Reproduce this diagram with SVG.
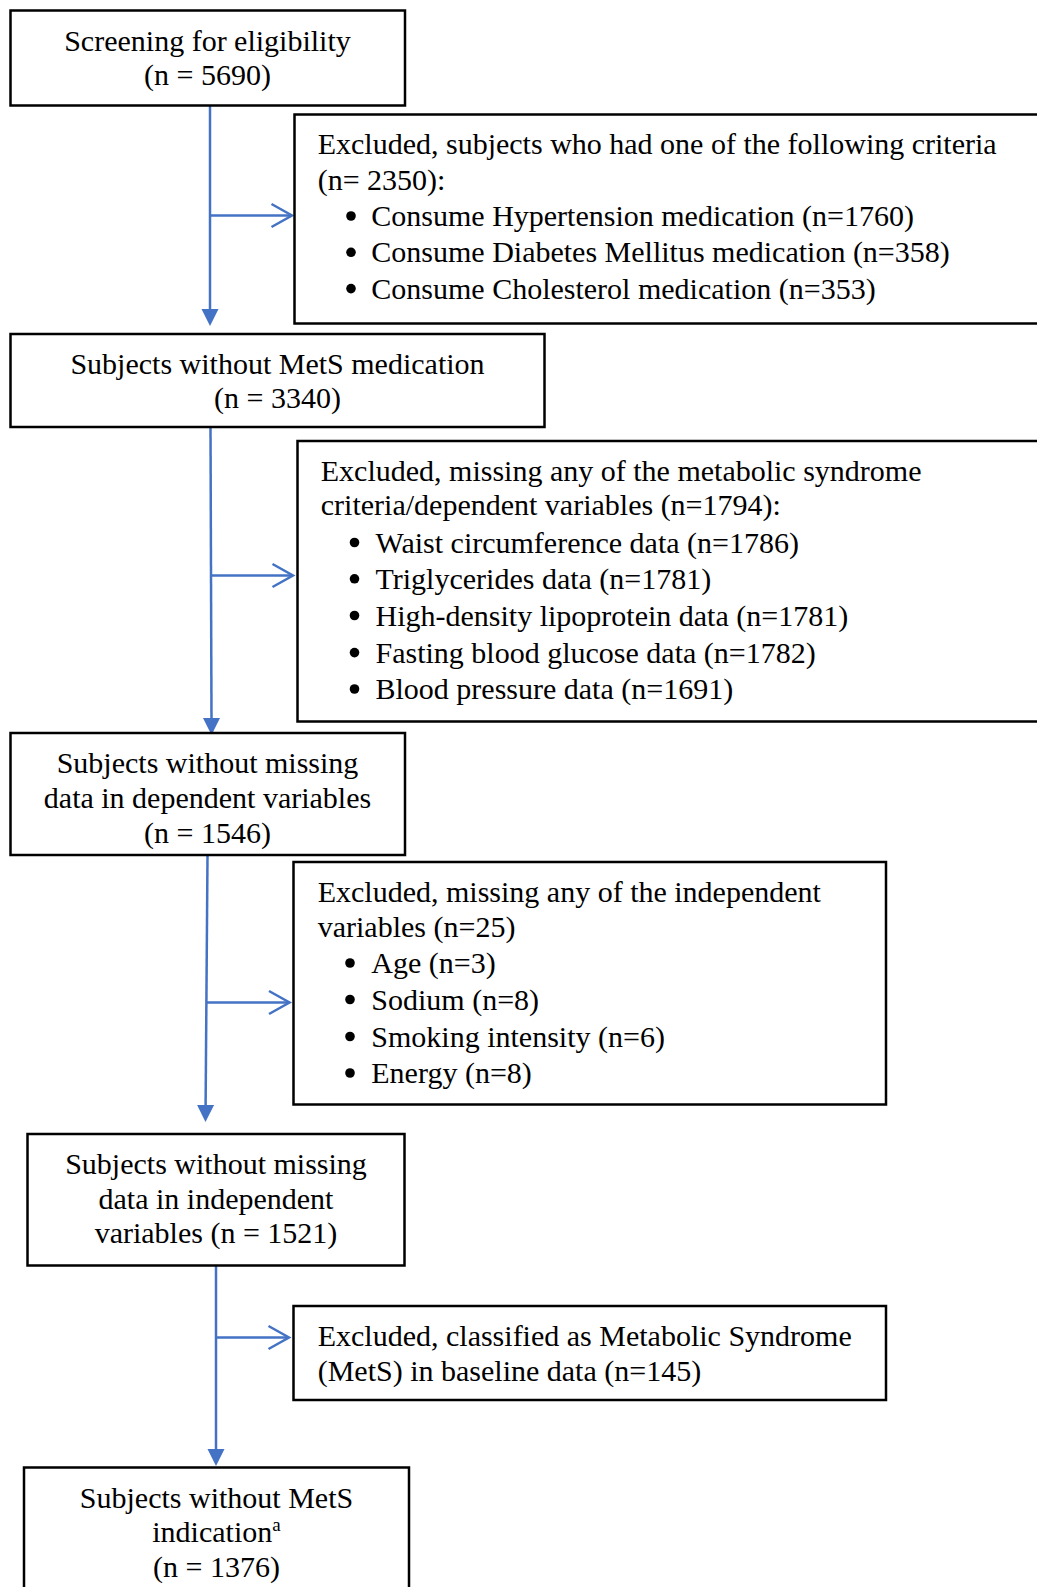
<svg xmlns="http://www.w3.org/2000/svg" width="1037" height="1587" viewBox="0 0 1037 1587">
<style>
.box{fill:#fff;stroke:#000;stroke-width:2.5}
.t{font-family:"Liberation Serif","Times New Roman",serif;font-size:30px;fill:#000}
.c{text-anchor:middle}
.ln{fill:none;stroke:#4472C4;stroke-width:2.5}
.dot{fill:#000}
</style>
<defs>
<marker id="tri" markerUnits="userSpaceOnUse" viewBox="0 0 17 17" markerWidth="17" markerHeight="17" refX="1" refY="8.5" orient="auto" overflow="visible">
<path d="M0,0 L17,8.5 L0,17 z" fill="#4472C4"/>
</marker>
<marker id="open" markerUnits="userSpaceOnUse" viewBox="0 0 21 23" markerWidth="21" markerHeight="23" refX="20.5" refY="11.5" orient="auto" overflow="visible">
<path d="M0,0 L20.5,11.5 L0,23" fill="none" stroke="#4472C4" stroke-width="2.5"/>
</marker>
</defs>
<rect width="1037" height="1587" fill="#fff"/>

<g id="connectors">
<path class="ln" d="M210,106 L210,310" marker-end="url(#tri)"/>
<path class="ln" d="M210,215.5 L292,215.5" marker-end="url(#open)"/>
<path class="ln" d="M210.5,428 L211.5,719" marker-end="url(#tri)"/>
<path class="ln" d="M211,575.5 L293,575.5" marker-end="url(#open)"/>
<path class="ln" d="M207.5,856 L205.6,1106" marker-end="url(#tri)"/>
<path class="ln" d="M206.5,1002.5 L289.5,1002.5" marker-end="url(#open)"/>
<path class="ln" d="M216,1266 L216,1450" marker-end="url(#tri)"/>
<path class="ln" d="M216,1337.5 L289,1337.5" marker-end="url(#open)"/>
</g>

<g id="n1">
<rect class="box" x="10.5" y="10.5" width="394.5" height="95"/>
<text class="t c" x="207.5" y="50.5">Screening for eligibility</text>
<text class="t c" x="207.5" y="84.5">(n = 5690)</text>
</g>

<g id="n2">
<rect class="box" x="294.5" y="114.5" width="760" height="209"/>
<text class="t" x="317.7" y="154">Excluded, subjects who had one of the following criteria</text>
<text class="t" x="317.7" y="190">(n= 2350):</text>
<circle class="dot" cx="351" cy="216" r="4.8"/>
<text class="t" x="371.3" y="226">Consume Hypertension medication (n=1760)</text>
<circle class="dot" cx="351" cy="252.3" r="4.8"/>
<text class="t" x="371.3" y="262.3">Consume Diabetes Mellitus medication (n=358)</text>
<circle class="dot" cx="351" cy="288.6" r="4.8"/>
<text class="t" x="371.3" y="298.6">Consume Cholesterol medication (n=353)</text>
</g>

<g id="n3">
<rect class="box" x="10.5" y="334" width="534" height="93"/>
<text class="t c" x="277.5" y="373.5">Subjects without MetS medication</text>
<text class="t c" x="277.5" y="408">(n = 3340)</text>
</g>

<g id="n4">
<rect class="box" x="297.5" y="441" width="760" height="280.5"/>
<text class="t" x="320.8" y="480.7">Excluded, missing any of the metabolic syndrome</text>
<text class="t" x="320.8" y="515.4">criteria/dependent variables (n=1794):</text>
<circle class="dot" cx="354.5" cy="542.5" r="4.8"/>
<text class="t" x="375.5" y="552.5">Waist circumference data (n=1786)</text>
<circle class="dot" cx="354.5" cy="578.8" r="4.8"/>
<text class="t" x="375.5" y="588.8">Triglycerides data (n=1781)</text>
<circle class="dot" cx="354.5" cy="615.5" r="4.8"/>
<text class="t" x="375.5" y="625.5">High-density lipoprotein data (n=1781)</text>
<circle class="dot" cx="354.5" cy="652.6" r="4.8"/>
<text class="t" x="375.5" y="662.6">Fasting blood glucose data (n=1782)</text>
<circle class="dot" cx="354.5" cy="689" r="4.8"/>
<text class="t" x="375.5" y="699">Blood pressure data (n=1691)</text>
</g>

<g id="n5">
<rect class="box" x="10.5" y="733" width="394.5" height="122"/>
<text class="t c" x="207.5" y="773">Subjects without missing</text>
<text class="t c" x="207.5" y="807.5">data in dependent variables</text>
<text class="t c" x="207.5" y="842.5">(n = 1546)</text>
</g>

<g id="n6">
<rect class="box" x="293.5" y="862" width="592.5" height="242.5"/>
<text class="t" x="317.7" y="902">Excluded, missing any of the independent</text>
<text class="t" x="317.7" y="936.5">variables (n=25)</text>
<circle class="dot" cx="350" cy="963" r="4.8"/>
<text class="t" x="371.3" y="973">Age (n=3)</text>
<circle class="dot" cx="350" cy="999.5" r="4.8"/>
<text class="t" x="371.3" y="1009.5">Sodium (n=8)</text>
<circle class="dot" cx="350" cy="1036.5" r="4.8"/>
<text class="t" x="371.3" y="1046.5">Smoking intensity (n=6)</text>
<circle class="dot" cx="350" cy="1073" r="4.8"/>
<text class="t" x="371.3" y="1083">Energy (n=8)</text>
</g>

<g id="n7">
<rect class="box" x="27.5" y="1134" width="377" height="131.5"/>
<text class="t c" x="216" y="1173.5">Subjects without missing</text>
<text class="t c" x="216" y="1208.5">data in independent</text>
<text class="t c" x="216" y="1243">variables (n = 1521)</text>
</g>

<g id="n8">
<rect class="box" x="293.5" y="1306" width="592.5" height="94"/>
<text class="t" x="317.7" y="1345.5">Excluded, classified as Metabolic Syndrome</text>
<text class="t" x="317.7" y="1381">(MetS) in baseline data (n=145)</text>
</g>

<g id="n9">
<rect class="box" x="24" y="1467.5" width="385" height="140"/>
<text class="t c" x="216.5" y="1507.5">Subjects without MetS</text>
<text class="t c" x="216.5" y="1541.7">indication<tspan font-size="19" dy="-11">a</tspan></text>
<text class="t c" x="216.5" y="1576.5">(n = 1376)</text>
</g>
</svg>
